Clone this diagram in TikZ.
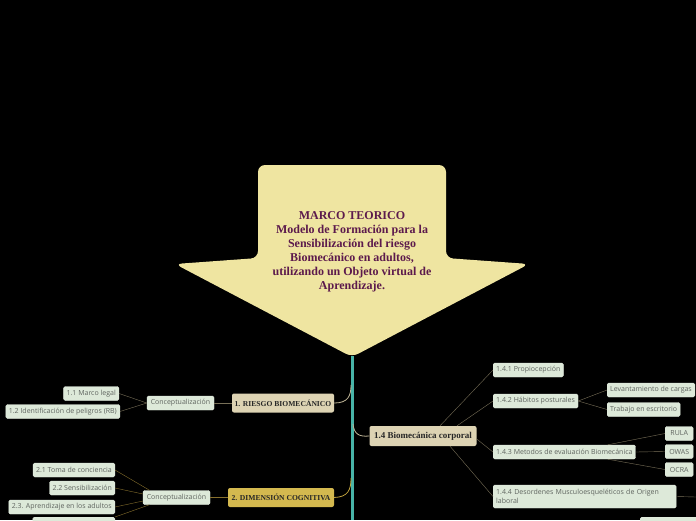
\documentclass[tikz,border=0pt]{standalone}
\usepackage{fontspec}
\setmainfont{Liberation Serif}
\newfontfamily\leaffont{Open Sans}
\definecolor{arrowfill}{RGB}{239,229,161}
\definecolor{titletext}{RGB}{92,26,76}
\definecolor{spine}{RGB}{72,180,168}
\definecolor{beigefill}{RGB}{221,211,179}
\definecolor{goldfill}{RGB}{212,185,79}
\definecolor{leaffill}{RGB}{221,233,217}
\definecolor{leaftext}{RGB}{95,100,95}
\definecolor{beigeline}{RGB}{190,180,150}
\definecolor{goldline}{RGB}{190,160,60}
\definecolor{thinline}{RGB}{120,112,88}
\definecolor{oliveline}{RGB}{135,112,45}
\begin{document}
\begin{tikzpicture}[x=1pt,y=-1pt,
  leaf/.style={draw=leaffill!80!white,fill=leaffill,rounded corners=1.5pt,
    font=\leaffont\fontsize{7}{8.5}\selectfont,text=leaftext,
    inner xsep=3pt,inner ysep=0pt,minimum height=14pt},
  topic/.style={rounded corners=2pt,font=\bfseries\fontsize{7.6}{8}\selectfont,
    text=black!85,inner sep=0pt,minimum height=19pt},
  link/.style={thin,draw=thinline}]
\fill (0,0) rectangle (696,520);
\clip (0,0) rectangle (696,520);
% big arrow
\fill[arrowfill,rounded corners=7pt] (258,258) -- (258,165) -- (446,165) -- (446,258)
  -- (529,264) -- (352,357) -- (175,264) -- cycle;
\node[font=\bfseries\fontsize{12}{14}\selectfont,text=titletext,align=center] (root) at (352,252)
  {MARCO TEORICO\\Modelo de Formación para la\\Sensibilización del riesgo\\Biomecánico en adultos,\\utilizando un Objeto virtual de\\Aprendizaje.};
\coordinate (tip) at (352,356);
\coordinate (bot) at (352,520);
\draw[spine,line width=3pt] (tip) -- (bot);
\coordinate (t1) at (351,385);
\coordinate (t14) at (353,424);
\coordinate (t2) at (351,478);
% 1. riesgo
\node[topic,fill=beigefill,minimum width=102pt] (m1) at (283,403) {1. RIESGO BIOMECÁNICO};
\node[leaf,minimum width=67pt] (c1) at (180.5,403) {Conceptualización};
\node[leaf,anchor=east] (l11) at (119,393.5) {1.1 Marco legal};
\node[leaf,anchor=east] (l12) at (120,411.5) {1.2 Identificación de peligros (RB)};
\draw[beigeline,thick] (m1.east) .. controls (348,403) and (351,396) .. (t1);
\draw[link] (c1.east) -- (m1.west);
\draw[link] (l11.east) -- (c1.west);
\draw[link] (l12.east) -- (c1.west);
% 1.4
\node[topic,fill=beigefill,minimum width=107pt,minimum height=20pt,
  font=\bfseries\fontsize{9}{10}\selectfont] (m14) at (423,436) {1.4 Biomecánica corporal};
\draw[beigeline,thick] (t14) .. controls (354,434) and (359,437) .. (m14.west);
\node[leaf,anchor=west] (s141) at (493,370) {1.4.1 Propiocepción};
\node[leaf,anchor=west] (s142) at (493,401) {1.4.2 Hábitos posturales};
\node[leaf,anchor=west] (s143) at (493,452) {1.4.3 Metodos de evaluación Biomecánica};
\node[leaf,anchor=west,text width=177pt,align=left,minimum height=23pt] (s144) at (493,496.5)
  {1.4.4 Desordenes Musculoesqueléticos de Origen laboral};
\node[leaf,anchor=west] (lev) at (607,390) {Levantamiento de cargas};
\node[leaf,anchor=west] (tra) at (607,409.5) {Trabajo en escritorio};
\node[leaf,anchor=west,minimum width=28pt] (rula) at (665,433.5) {RULA};
\node[leaf,anchor=west,minimum width=28pt] (owas) at (665,451.5) {OWAS};
\node[leaf,anchor=west,minimum width=28pt] (ocra) at (665,469.5) {OCRA};
\node[leaf,anchor=north west,minimum width=60pt] (s145) at (640,517) {};
\coordinate (s144out) at (696,497);
\draw[link] ([xshift=17pt]m14.north) -- (s141.west);
\draw[link] ([xshift=34pt]m14.north) -- (s142.west);
\draw[link] ([yshift=-3pt]m14.east) -- (s143.west);
\draw[link] ([xshift=27pt]m14.south) -- (s144.west);
\draw[link] (s142.east) -- (lev.west);
\draw[link] (s142.east) -- (tra.west);
\draw[link] ([xshift=-28pt]s143.north east) -- (rula.west);
\draw[link] (s143.east) -- (owas.west);
\draw[link] ([xshift=-28pt]s143.south east) -- (ocra.west);
\draw[link] (s144.east) -- (s144out);
% 2. cognitiva
\node[topic,fill=goldfill,minimum width=106pt] (m2) at (281,497.5) {2. DIMENSIÓN COGNITIVA};
\node[leaf,minimum width=67pt] (c2) at (176.5,497.5) {Conceptualización};
\node[leaf,anchor=east] (l21) at (115,470) {2.1 Toma de conciencia};
\node[leaf,anchor=east] (l22) at (115,488) {2.2 Sensibilización};
\node[leaf,anchor=east] (l23) at (115,507) {2.3. Aprendizaje en los adultos};
\node[leaf,anchor=north east,minimum width=82pt] (l24) at (115,517) {};
\draw[goldline,thick] (m2.east) .. controls (348,497) and (351,490) .. (t2);
\draw[oliveline] (c2.east) -- (m2.west);
\draw[oliveline] (l21.east) -- (c2.165);
\draw[oliveline] (l22.east) -- (c2.174);
\draw[oliveline] (l23.east) -- (c2.186);
\draw[oliveline] (l24.north east) -- (c2.195);
\end{tikzpicture}
\end{document}
